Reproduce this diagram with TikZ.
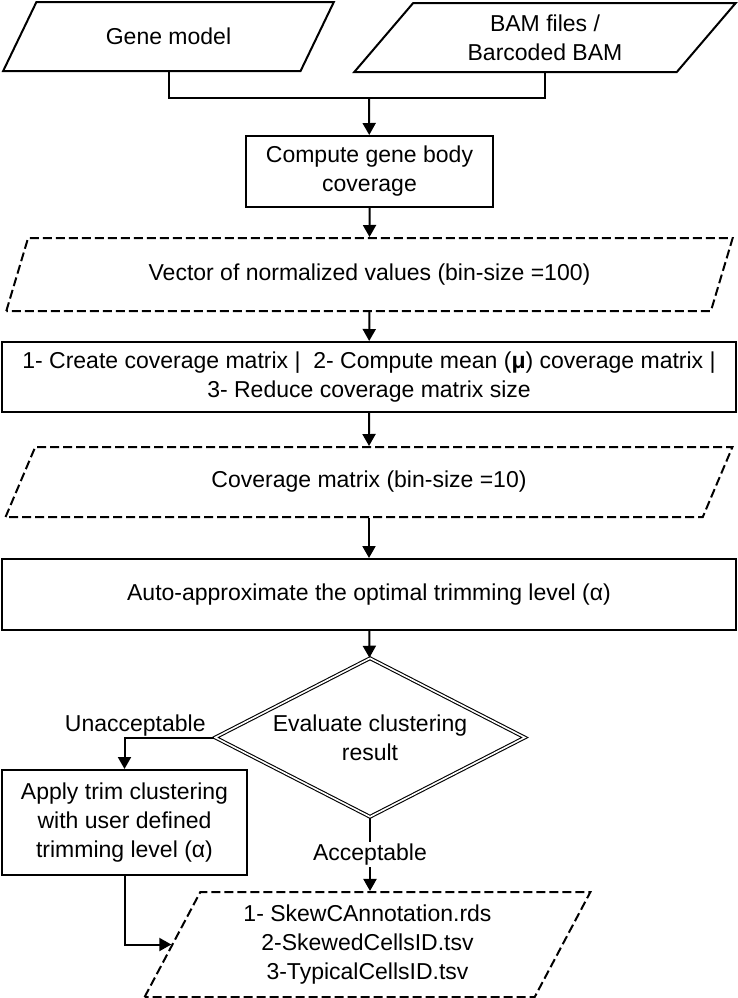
\documentclass[tikz,border=0pt]{standalone}
\usepackage{fontspec}
\setmainfont{Liberation Sans}
\usepackage{tikz}
\usetikzlibrary{shapes.geometric, arrows.meta, positioning}

\begin{document}
\begin{tikzpicture}[x=0.5pt, y=-0.5pt,
    font=\fontsize{11.5}{14.5}\selectfont,
    >={Triangle[length=6pt, width=6.5pt]},
    proc/.style={draw, rectangle, line width=1pt, align=center, inner sep=2pt},
    io/.style={draw, trapezium, trapezium stretches=true, line width=1pt, align=center, inner sep=2pt},
    iodash/.style={io, dash pattern=on 4.5pt off 2pt},
    decision/.style={draw, diamond, double, double distance=0.8pt, line width=0.55pt, aspect=1.95, inner sep=0pt, align=center},
    flow/.style={->, line width=1pt}]
    \useasboundingbox (0,0) rectangle (738,998);

    % Inputs
    \node[io, trapezium left angle=56, trapezium right angle=124, minimum width=166.5pt, minimum height=34.5pt] (gene) at (168.5,36.5) {Gene model};
    \node[io, trapezium left angle=56, trapezium right angle=124, minimum width=191pt, minimum height=34.5pt] (bam) at (545,37.5) {BAM files /\\Barcoded BAM};
    \coordinate (merge) at (369,98);
    \draw[line width=1pt] (gene.south) |- (merge) -| (bam.south);

    % Gene body coverage
    \node[proc, minimum width=123.5pt, minimum height=35.5pt] (compute) at (369.5,171.5) {Compute gene body\\coverage};
    \draw[flow] (merge) -- (compute);

    % Normalized vector
    \node[iodash, trapezium left angle=64, trapezium right angle=116, minimum width=364.5pt, minimum height=36.5pt] (vector) at (369.5,274.5) {Vector of normalized values (bin-size =100)};
    \draw[flow] (compute) -- (vector);

    % Matrix steps
    \node[proc, minimum width=367pt, minimum height=35pt] (steps) at (369,377) {1- Create coverage matrix |\ \ 2- Compute mean (\textbf{μ}) coverage matrix |\\3- Reduce coverage matrix size};
    \draw[flow] (vector) -- (steps);

    % Coverage matrix
    \node[iodash, trapezium left angle=64, trapezium right angle=116, minimum width=364pt, minimum height=35pt] (covmat) at (369,482) {Coverage matrix (bin-size =10)};
    \draw[flow] (steps) -- (covmat);

    % Trimming level
    \node[proc, minimum width=367pt, minimum height=35.5pt] (auto) at (369,594.5) {Auto-approximate the optimal trimming level (α)};
    \draw[flow] (covmat) -- (auto);

    % Evaluation
    \node[decision, minimum width=155pt, minimum height=79.5pt] (eval) at (370,737.5) {Evaluate clustering\\result};
    \draw[flow] (auto) -- (eval);

    % Manual trimming
    \node[proc, minimum width=122.5pt, minimum height=52.5pt] (apply) at (124.5,822.5) {Apply trim clustering\\with user defined\\trimming level (α)};
    \draw[flow] (eval.west) -| node[pos=0.44, above, inner sep=0pt] (unacc) {Unacceptable} (apply.north);

    % Output files
    \node[iodash, trapezium left angle=64, trapezium right angle=116, minimum width=223.5pt, minimum height=52.5pt] (output) at (367.5,944.5) {1- SkewCAnnotation.rds\\2-SkewedCellsID.tsv\\3-TypicalCellsID.tsv};
    \draw[flow] (eval.south) -- node[fill=white, inner sep=1pt] (acc) {Acceptable} (eval.south |- output.north);
    \draw[flow] (apply.south) |- (output.west);
\end{tikzpicture}
\end{document}
